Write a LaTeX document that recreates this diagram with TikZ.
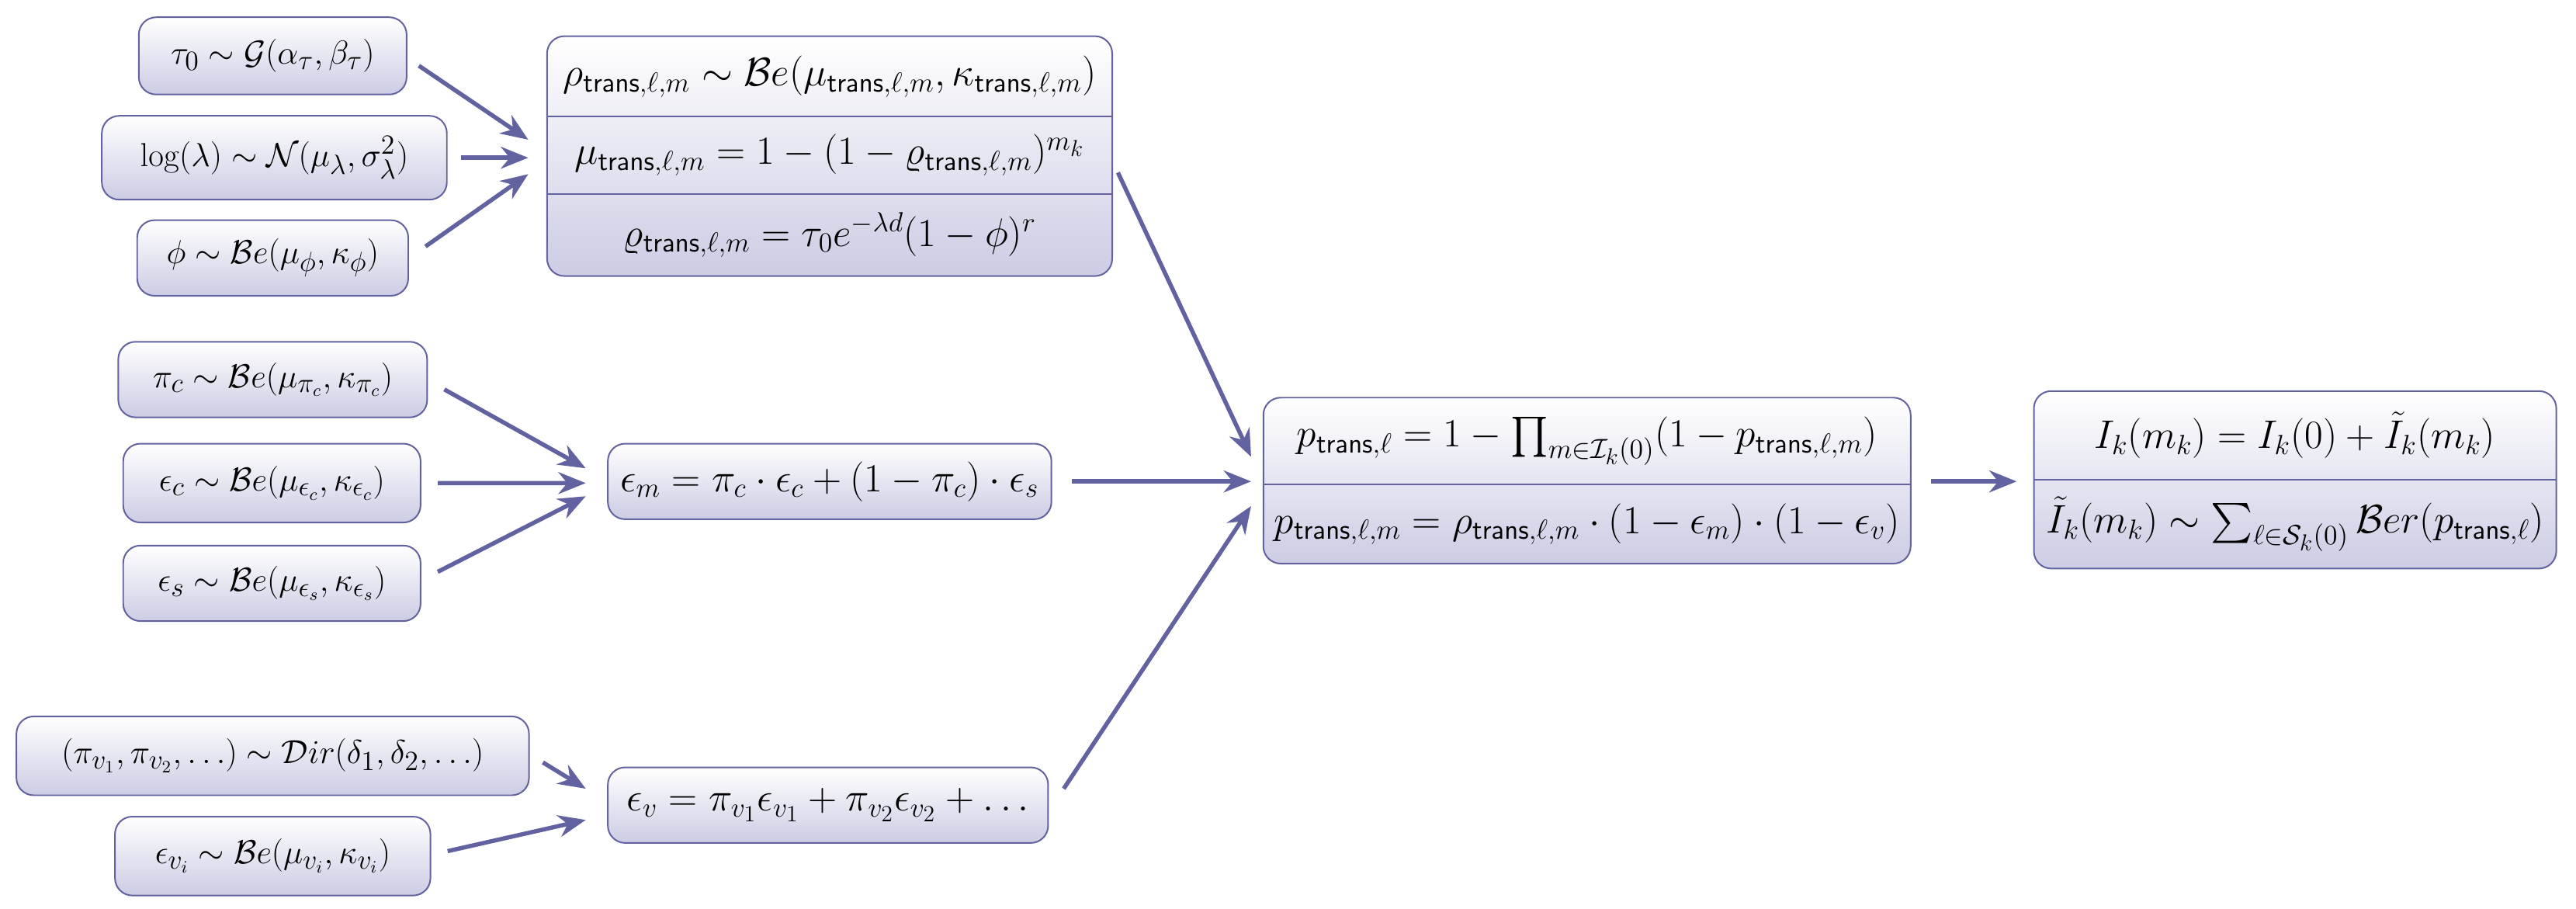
\documentclass[tikz,border=0pt]{standalone}
\usepackage{amsmath}
\usetikzlibrary{arrows.meta}
\definecolor{bc}{RGB}{98,98,160}
\definecolor{lav}{RGB}{204,204,228}
\tikzset{
  box/.style={draw=bc, line width=0.8pt, rounded corners=9pt, top color=white, bottom color=lav, inner sep=0pt},
  lbl/.style={font=\huge, inner sep=0pt},
  lbs/.style={font=\fontsize{19}{23}\selectfont, inner sep=0pt},
  conn/.style={draw=bc, line width=2.2pt, -{Stealth[length=0.5cm,width=0.4cm]}},
  sep/.style={draw=bc, line width=0.8pt}
}
\newcommand{\tr}{\mathsf{trans}}
\begin{document}
\begin{tikzpicture}
\useasboundingbox (0,0) rectangle (47.04,-16.59);
% left column
\node[box, minimum width=4.89cm, minimum height=1.41cm] (A1) at (4.98,-1.02) {};
\node[lbs] (tA1) at (A1) {$\tau_0\sim\mathcal{G}(\alpha_\tau,\beta_\tau)$};
\node[box, minimum width=6.3cm, minimum height=1.53cm] (A2) at (5.01,-2.88) {};
\node[lbs] (tA2) at (A2) {$\log(\lambda)\sim\mathcal{N}(\mu_\lambda,\sigma_\lambda^2)$};
\node[box, minimum width=4.95cm, minimum height=1.38cm] (A3) at (4.98,-4.71) {};
\node[lbs] (tA3) at (A3) {$\phi\sim\mathcal{B}e(\mu_\phi,\kappa_\phi)$};
\node[box, minimum width=5.64cm, minimum height=1.38cm] (C1) at (4.98,-6.93) {};
\node[lbs] (tC1) at (C1) {$\pi_c\sim\mathcal{B}e(\mu_{\pi_c},\kappa_{\pi_c})$};
\node[box, minimum width=5.43cm, minimum height=1.44cm] (C2) at (4.965,-8.82) {};
\node[lbs] (tC2) at (C2) {$\epsilon_c\sim\mathcal{B}e(\mu_{\epsilon_c},\kappa_{\epsilon_c})$};
\node[box, minimum width=5.43cm, minimum height=1.38cm] (C3) at (4.965,-10.65) {};
\node[lbs] (tC3) at (C3) {$\epsilon_s\sim\mathcal{B}e(\mu_{\epsilon_s},\kappa_{\epsilon_s})$};
\node[box, minimum width=9.36cm, minimum height=1.44cm] (E1) at (4.98,-13.8) {};
\node[lbs] (tE1) at (E1) {$(\pi_{v_1},\pi_{v_2},\ldots)\sim\mathcal{D}ir(\delta_1,\delta_2,\ldots)$};
\node[box, minimum width=5.76cm, minimum height=1.44cm] (E2) at (4.98,-15.63) {};
\node[lbs] (tE2) at (E2) {$\epsilon_{v_i}\sim\mathcal{B}e(\mu_{v_i},\kappa_{v_i})$};
% middle column
\node[box, minimum width=10.32cm, minimum height=4.38cm] (B) at (15.15,-2.85) {};
\draw[sep] (9.99,-2.13) -- (20.31,-2.13);
\draw[sep] (9.99,-3.54) -- (20.31,-3.54);
\node[lbl] (tB1) at (15.15,-1.395) {$\rho_{\tr,\ell,m}\sim\mathcal{B}e(\mu_{\tr,\ell,m},\kappa_{\tr,\ell,m})$};
\node[lbl] (tB2) at (15.15,-2.835) {$\mu_{\tr,\ell,m}=1-(1-\varrho_{\tr,\ell,m})^{m_k}$};
\node[lbl] (tB3) at (15.15,-4.29) {$\varrho_{\tr,\ell,m}=\tau_0e^{-\lambda d}(1-\phi)^r$};
\node[box, minimum width=8.1cm, minimum height=1.38cm] (D) at (15.15,-8.79) {};
\node[lbl] (tD) at (D) {$\epsilon_m=\pi_c\cdot\epsilon_c+(1-\pi_c)\cdot\epsilon_s$};
\node[box, minimum width=8.04cm, minimum height=1.38cm] (F) at (15.12,-14.7) {};
\node[lbl] (tF) at (F) {$\epsilon_v=\pi_{v_1}\epsilon_{v_1}+\pi_{v_2}\epsilon_{v_2}+\ldots$};
% right
\node[box, minimum width=11.82cm, minimum height=3.03cm] (G) at (28.98,-8.775) {};
\draw[sep] (23.07,-8.85) -- (34.89,-8.85);
\node[lbl] (tG1) at (28.98,-8.055) {$p_{\tr,\ell}=1-\prod_{m\in\mathcal{I}_k(0)}(1-p_{\tr,\ell,m})$};
\node[lbl] (tG2) at (28.98,-9.57) {$p_{\tr,\ell,m}=\rho_{\tr,\ell,m}\cdot(1-\epsilon_m)\cdot(1-\epsilon_v)$};
\node[box, minimum width=9.54cm, minimum height=3.24cm] (H) at (41.91,-8.76) {};
\draw[sep] (37.14,-8.76) -- (46.68,-8.76);
\node[lbl] (tH1) at (41.91,-7.95) {$I_k(m_k)=I_k(0)+\tilde{I}_k(m_k)$};
\node[lbl] (tH2) at (41.91,-9.57) {$\tilde{I}_k(m_k)\sim\sum_{\ell\in\mathcal{S}_k(0)}\mathcal{B}er(p_{\tr,\ell})$};
% connectors
\path (A1.east) ++(0.21,-0.18) coordinate (sA1);
\path (A2.east) ++(0.25,0) coordinate (sA2);
\path (A3.east) ++(0.3,0.21) coordinate (sA3);
\path (B.west) ++(-0.33,0.3) coordinate (eA1);
\path (B.west) ++(-0.33,-0.03) coordinate (eA2);
\path (B.west) ++(-0.33,-0.33) coordinate (eA3);
\draw[conn] (sA1) -- (eA1);
\draw[conn] (sA2) -- (eA2);
\draw[conn] (sA3) -- (eA3);
\path (C1.east) ++(0.3,-0.18) coordinate (sC1);
\path (C2.east) ++(0.3,0) coordinate (sC2);
\path (C3.east) ++(0.3,0.21) coordinate (sC3);
\path (D.west) ++(-0.39,0.24) coordinate (eC1);
\path (D.west) ++(-0.39,-0.03) coordinate (eC2);
\path (D.west) ++(-0.39,-0.27) coordinate (eC3);
\draw[conn] (sC1) -- (eC1);
\draw[conn] (sC2) -- (eC2);
\draw[conn] (sC3) -- (eC3);
\path (E1.east) ++(0.24,-0.12) coordinate (sE1);
\path (E2.east) ++(0.3,0.09) coordinate (sE2);
\path (F.west) ++(-0.39,0.3) coordinate (eE1);
\path (F.west) ++(-0.39,-0.27) coordinate (eE2);
\draw[conn] (sE1) -- (eE1);
\draw[conn] (sE2) -- (eE2);
\path (B.east) ++(0.09,-0.3) coordinate (sB);
\path (D.east) ++(0.36,0) coordinate (sD);
\path (F.east) ++(0.27,0.3) coordinate (sF);
\path (G.west) ++(-0.21,0.435) coordinate (eB);
\path (G.west) ++(-0.21,-0.015) coordinate (eD);
\path (G.west) ++(-0.21,-0.465) coordinate (eF);
\draw[conn] (sB) -- (eB);
\draw[conn] (sD) -- (eD);
\draw[conn] (sF) -- (eF);
\path (G.east) ++(0.36,-0.015) coordinate (sG);
\path (H.west) ++(-0.3,-0.03) coordinate (eG);
\draw[conn] (sG) -- (eG);
\end{tikzpicture}
\end{document}
